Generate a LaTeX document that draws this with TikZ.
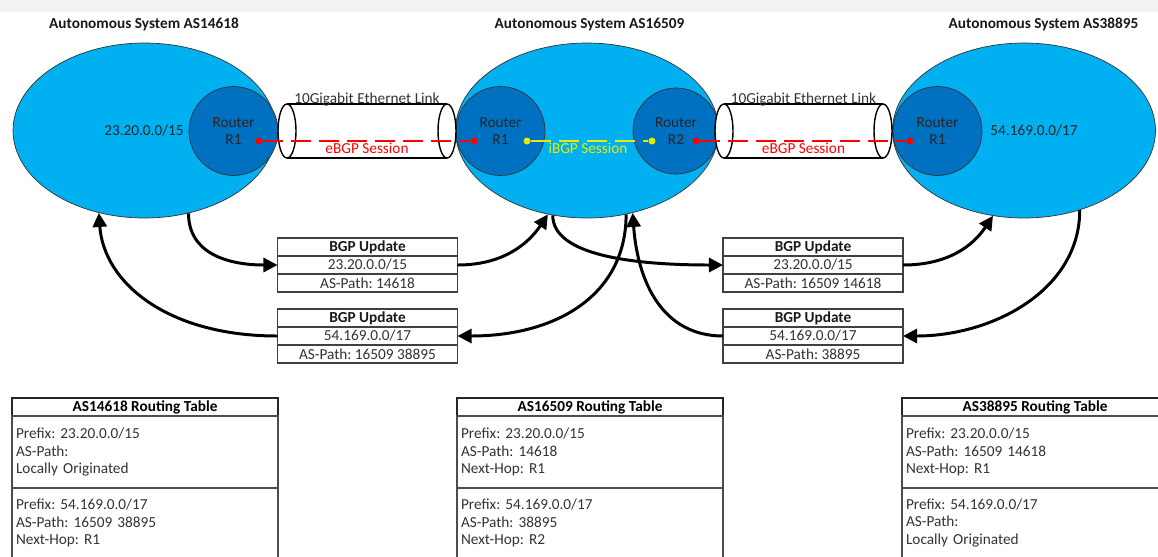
\documentclass[tikz,border=0pt]{standalone}
\usepackage{fontspec}
\setmainfont{Carlito}
\usetikzlibrary{shapes.geometric,arrows.meta,positioning}
\definecolor{asblue}{RGB}{0,176,240}
\definecolor{rtblue}{RGB}{0,112,192}
\definecolor{ibgp}{RGB}{235,235,0}
\frenchspacing

\begin{document}
\begin{tikzpicture}[x=0.02cm,y=-0.02cm,
    every node/.style={font=\fontsize{8.7}{10}\selectfont},
    astitle/.style={font=\fontsize{8.7}{10}\selectfont\bfseries,text=black!90},
    asys/.style={ellipse,draw=black!80,fill=asblue,inner sep=0pt,
      minimum width=5.26cm,minimum height=3.5cm},
    router/.style={circle,draw=black!80,fill=rtblue,inner sep=0pt,
      minimum size=1.78cm,align=center,text=black!85},
    dotr/.style={circle,fill=red,inner sep=0pt,minimum size=0.14cm},
    doty/.style={dotr,fill=ibgp},
    tube/.style={draw=black,line width=0.8pt,fill=white},
    session/.style={line width=1.1pt,dash pattern=on 0.4cm off 0.16cm},
    updrow/.style={draw=black!75,line width=0.7pt,fill=white,inner sep=0pt,
      outer sep=0pt,minimum width=3.6cm,minimum height=0.36cm,text=black!80},
    updhead/.style={updrow,font=\fontsize{8.7}{10}\selectfont\bfseries,text=black!90},
    tabhead/.style={draw=black!85,line width=0.7pt,inner sep=0pt,outer sep=0pt,
      minimum width=5.32cm,minimum height=0.36cm,
      font=\fontsize{8.7}{10}\selectfont\bfseries},
    tabrow/.style={draw=black!70,line width=0.8pt,inner xsep=0.08cm,inner ysep=0pt,
      outer sep=0pt,text width=5.16cm,minimum height=1.44cm,align=left,text=black!80},
    flow/.style={line width=1.7pt,-{Triangle[length=8pt,width=8pt]}}
  ]
  \useasboundingbox (0,0) rectangle (1158,556);
  \clip (0,0) rectangle (1158,556);
  \fill[black!5] (0,0) rectangle (1158,12);

  % autonomous systems
  \foreach \n/\x/\tx/\as in {as1/144.5/144/14618,as2/587/589.5/16509,as3/1024/1043.5/38895}{
    \node[asys] (\n) at (\x,130.5) {};
    \node[astitle] (\n t) at (\tx,24) {Autonomous System AS\as};
  }
  \node[text=black!85] (pfx1) at (144,131) {23.20.0.0/15};
  \node[text=black!85] (pfx3) at (1034,131) {54.169.0.0/17};

  \node[router] (r11) at (233.5,131) {Router\\R1};
  \node[router] (r21) at (500.5,131) {Router\\R1};
  \node[router,minimum size=1.72cm] (r22) at (676,131) {Router\\R2};
  \node[router] (r31) at (937.5,131) {Router\\R1};

  % links
  \foreach \a/\b in {287/447,724/883}{
    \fill[white] (\a,104) rectangle (\b,158);
    \draw[tube] (\a,104) -- (\b,104) (\a,158) -- (\b,158);
    \draw[tube] (\a,131) ellipse (9 and 27);
    \draw[tube] (\b,131) ellipse (9 and 27);
  }
  \node[anchor=base,text=black!80] (lnk1) at (367,103.5) {10Gigabit Ethernet Link};
  \node[anchor=base,text=black!80] (lnk2) at (803.5,103.5) {10Gigabit Ethernet Link};

  % sessions
  \node[dotr] (a1e) at (259,141) {};
  \node[dotr] (b1e) at (474,141) {};
  \node[doty] (b1i) at (527,141) {};
  \node[doty] (b2i) at (652,141) {};
  \node[dotr] (b2e) at (696,141) {};
  \node[dotr] (c1e) at (910,141) {};
  \draw[session,red] (a1e) -- (b1e);
  \draw[session,ibgp] (b1i) -- (b2i);
  \draw[session,red] (b2e) -- (c1e);
  \node[anchor=base,red] (eb1) at (367,153) {eBGP Session};
  \node[anchor=base,text=ibgp] (ib) at (588,153) {iBGP Session};
  \node[anchor=base,red] (eb2) at (803.5,153) {eBGP Session};

  % updates
  \node[updhead] (u1h) at (367.5,247) {BGP Update};
  \node[updrow,below=0pt of u1h] (u1p) {23.20.0.0/15};
  \node[updrow,below=0pt of u1p] (u1a) {AS-Path: 14618};
  \node[updhead] (u3h) at (367.5,318) {BGP Update};
  \node[updrow,below=0pt of u3h] (u3p) {54.169.0.0/17};
  \node[updrow,below=0pt of u3p] (u3a) {AS-Path: 16509 38895};
  \node[updhead] (u2h) at (813,247) {BGP Update};
  \node[updrow,below=0pt of u2h] (u2p) {23.20.0.0/15};
  \node[updrow,below=0pt of u2p] (u2a) {AS-Path: 16509 14618};
  \node[updhead] (u4h) at (813,318) {BGP Update};
  \node[updrow,below=0pt of u4h] (u4p) {54.169.0.0/17};
  \node[updrow,below=0pt of u4p] (u4a) {AS-Path: 38895};

  \draw[flow] (as1.-62) .. controls +(0,40) and +(-50,0) .. (u1p.west);
  \draw[flow] (u1p.east) .. controls +(45,0) and +(-20,30) .. (as2.245);
  \draw[flow] (as2.-112) .. controls +(0,40) and +(-90,0) .. (u2p.west);
  \draw[flow] (u2p.east) .. controls +(45,0) and +(-20,30) .. (as3.-110);
  \draw[flow] (as3.-55) .. controls +(0,80) and +(90,0) .. (u4p.east);
  \draw[flow] (u4p.west) .. controls +(-60,0) and +(5,70) .. (as2.-61);
  \draw[flow] (as2.-65) .. controls +(0,80) and +(100,0) .. (u3p.east);
  \draw[flow] (u3p.west) .. controls +(-110,0) and +(5,70) .. (as1.241);

  % routing tables
  \node[tabhead] (t1) at (145,407) {AS14618 Routing Table};
  \node[tabrow,below=0pt of t1] (t1a) {Prefix: 23.20.0.0/15\\AS-Path:\\Locally Originated};
  \node[tabrow,below=0pt of t1a,minimum height=1.4cm] (t1b) {Prefix: 54.169.0.0/17\\AS-Path: 16509 38895\\Next-Hop: R1};
  \node[tabhead] (t2) at (590,407) {AS16509 Routing Table};
  \node[tabrow,below=0pt of t2] (t2a) {Prefix: 23.20.0.0/15\\AS-Path: 14618\\Next-Hop: R1};
  \node[tabrow,below=0pt of t2a,minimum height=1.4cm] (t2b) {Prefix: 54.169.0.0/17\\AS-Path: 38895\\Next-Hop: R2};
  \node[tabhead] (t3) at (1035,407) {AS38895 Routing Table};
  \node[tabrow,below=0pt of t3] (t3a) {Prefix: 23.20.0.0/15\\AS-Path: 16509 14618\\Next-Hop: R1};
  \node[tabrow,below=0pt of t3a,minimum height=1.4cm] (t3b) {Prefix: 54.169.0.0/17\\AS-Path:\\Locally Originated};
\end{tikzpicture}
\end{document}
